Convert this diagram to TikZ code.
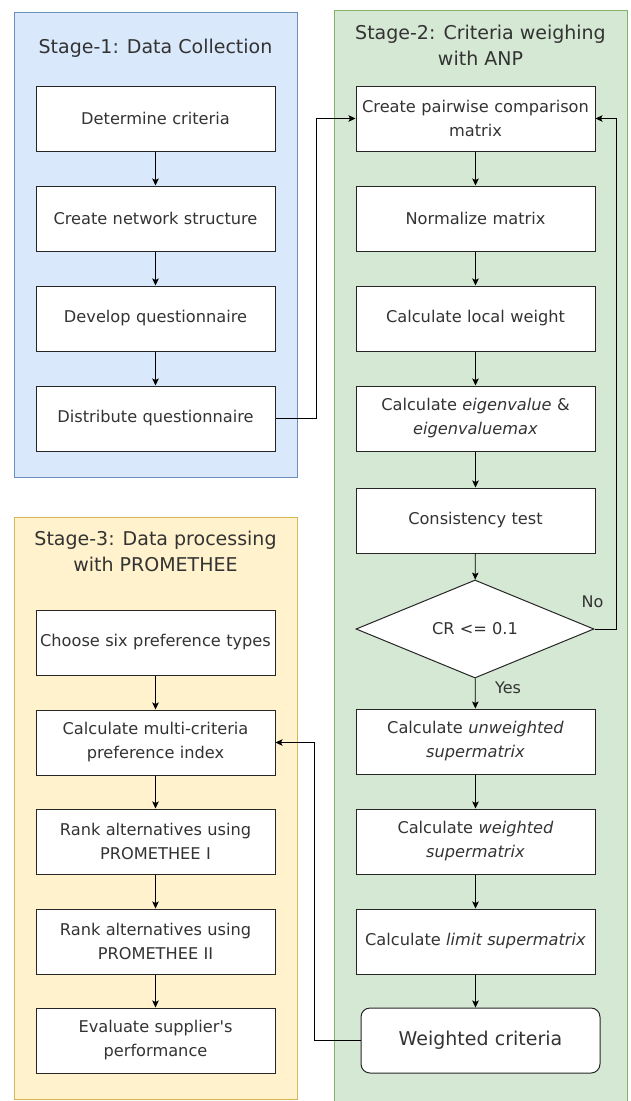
\documentclass[tikz,border=0pt]{standalone}
\usepackage{fontspec}
\setmainfont{DejaVu Sans}
\usetikzlibrary{shapes.geometric,arrows.meta}
\definecolor{stageoneback}{HTML}{DAE8FC}
\definecolor{stageoneline}{HTML}{6C8EBF}
\definecolor{stagetwoback}{HTML}{D5E8D4}
\definecolor{stagetwoline}{HTML}{82B366}
\definecolor{stagethreeback}{HTML}{FFF2CC}
\definecolor{stagethreeline}{HTML}{D6B656}
\definecolor{txtgray}{HTML}{333333}
\begin{document}
\begin{tikzpicture}[x=1pt,y=-1pt,
  stepbox/.style={draw=black!85,fill=white,line width=1pt,minimum width=239pt,minimum height=65pt,
    inner sep=0pt,text width=234pt,align=center,text=txtgray,font=\fontsize{16.2}{24}\selectfont},
  stagetitle/.style={text=txtgray,align=center,font=\fontsize{19}{26}\selectfont},
  flow/.style={line width=0.8pt,-{Stealth[length=7pt,width=6.5pt,inset=1.5pt]}},
  lbl/.style={text=txtgray,font=\fontsize{16}{18}\selectfont}]
  \useasboundingbox (0,0) rectangle (631,1101);
  % the three stages
  \draw[fill=stageoneback,draw=stageoneline,line width=0.9pt] (14,12) rectangle (297,477);
  \draw[fill=stagetwoback,draw=stagetwoline,line width=0.9pt] (334,10) rectangle (627,1112);
  \draw[fill=stagethreeback,draw=stagethreeline,line width=0.9pt] (14,517) rectangle (297,1099);
  \node[stagetitle] (titleone) at (155.5,48) {Stage-1: Data Collection};
  \node[stagetitle] (titletwo) at (480.5,45) {Stage-2: Criteria weighing\\with ANP};
  \node[stagetitle] (titlethree) at (155.5,551) {Stage-3: Data processing\\with PROMETHEE};
  % stage 1
  \node[stepbox] (criteria) at (155.5,118.5) {Determine criteria};
  \node[stepbox] (network) at (155.5,218.5) {Create network structure};
  \node[stepbox] (develop) at (155.5,318.5) {Develop questionnaire};
  \node[stepbox] (distrib) at (155.5,418.5) {Distribute questionnaire};
  % stage 2
  \node[stepbox] (pairwise) at (475.5,118.5) {Create pairwise comparison\\matrix};
  \node[stepbox] (normal) at (475.5,218.5) {Normalize matrix};
  \node[stepbox] (local) at (475.5,318.5) {Calculate local weight};
  \node[stepbox] (eigen) at (475.5,418.5) {Calculate \textit{eigenvalue} \&\\\textit{eigenvaluemax}};
  \node[stepbox] (consist) at (475.5,520.5) {Consistency test};
  \node[diamond,draw=black!85,fill=white,line width=1pt,minimum width=238pt,minimum height=86pt,
    inner sep=0pt,text=txtgray,font=\fontsize{16.2}{18}\selectfont] (crtest) at (475,629) {CR <= 0.1};
  \node[stepbox] (unweigh) at (475.5,741.5) {Calculate \textit{unweighted}\\\textit{supermatrix}};
  \node[stepbox] (weigh) at (475.5,841.5) {Calculate \textit{weighted}\\\textit{supermatrix}};
  \node[stepbox] (limit) at (475.5,941.5) {Calculate \textit{limit supermatrix}};
  \node[stepbox,rounded corners=9pt,font=\fontsize{19}{24}\selectfont] (wcrit) at (480.5,1040.5) {Weighted criteria};
  % stage 3
  \node[stepbox] (prefer) at (155.5,642.5) {Choose six preference types};
  \node[stepbox] (multi) at (155.5,742.5) {Calculate multi-criteria\\preference index};
  \node[stepbox] (rankone) at (155.5,841.5) {Rank alternatives using\\PROMETHEE I};
  \node[stepbox] (ranktwo) at (155.5,941.5) {Rank alternatives using\\PROMETHEE II};
  \node[stepbox] (evaluate) at (155.5,1040.5) {Evaluate supplier\textquotesingle s\\performance};
  % connectors
  \draw[flow] (criteria) -- (network);
  \draw[flow] (network) -- (develop);
  \draw[flow] (develop) -- (distrib);
  \draw[flow] (distrib.east) -- ++(41,0) |- (pairwise.west);
  \draw[flow] (pairwise) -- (normal);
  \draw[flow] (normal) -- (local);
  \draw[flow] (local) -- (eigen);
  \draw[flow] (eigen) -- (consist);
  \draw[flow] (consist) -- (crtest);
  \draw[flow] (crtest.east) -- ++(22,0) |- (pairwise.east);
  \draw[flow] (crtest) -- (unweigh);
  \draw[flow] (unweigh) -- (weigh);
  \draw[flow] (weigh) -- (limit);
  \draw[flow] (limit) -- (wcrit.north -| limit.south);
  \draw[flow] (wcrit.west) -- ++(-46,0) |- (multi.east);
  \draw[flow] (prefer) -- (multi);
  \draw[flow] (multi) -- (rankone);
  \draw[flow] (rankone) -- (ranktwo);
  \draw[flow] (ranktwo) -- (evaluate);
  \node[lbl] (nolbl) at (592.5,602) {No};
  \node[lbl] (yeslbl) at (508,688) {Yes};
\end{tikzpicture}
\end{document}
